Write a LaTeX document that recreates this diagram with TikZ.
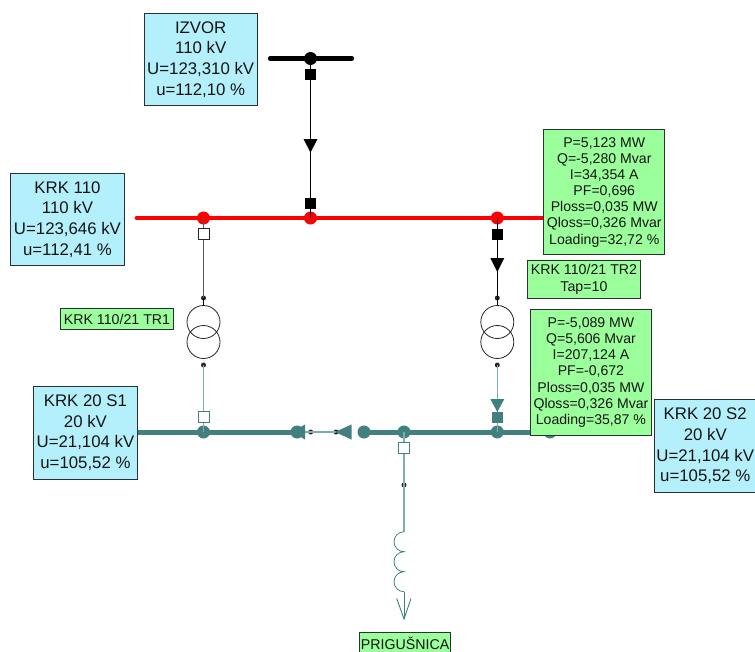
\documentclass[tikz,border=0pt]{standalone}
\usepackage{fontspec}
\setmainfont{Liberation Sans}
\definecolor{lblue}{RGB}{180,240,252}
\definecolor{lgreen}{RGB}{155,255,155}
\definecolor{teal1}{RGB}{66,128,128}
\definecolor{teal2}{RGB}{125,175,175}
\definecolor{frame}{RGB}{40,50,50}
\tikzset{x=1pt,y=-1pt,
 lab/.style={draw=frame,line width=0.9pt,inner sep=0pt,align=center,anchor=north west,text=black!92},
 bluebox/.style={lab,fill=lblue,font=\fontsize{16.8}{20.6}\selectfont},
 greenbig/.style={lab,fill=lgreen,font=\fontsize{14.1}{16.1}\selectfont},
 greensmall/.style={lab,fill=lgreen,font=\fontsize{14.2}{16.5}\selectfont},
 bbar/.style={line width=4.2pt,line cap=round,black},
 rbar/.style={line width=4.8pt,line cap=round,red},
 tbar/.style={line width=5pt,teal1},
 thin1/.style={line width=1pt,black},
 gline/.style={line width=1.1pt,black!65},
 tline/.style={line width=1.2pt,teal2},
 dotn/.style={circle,inner sep=0pt,minimum size=13pt,fill=#1},
 sq/.style={rectangle,inner sep=0pt,minimum size=11pt,fill=#1},
 wsq/.style={rectangle,inner sep=0pt,minimum size=11pt,fill=white,draw=#1,line width=0.9pt},
 jn/.style={circle,inner sep=0pt,minimum size=5pt,fill=black!85},
 wind/.style={circle,draw=black!85,line width=0.8pt,minimum size=33pt,inner sep=0pt}
}
\begin{document}
\begin{tikzpicture}
\useasboundingbox (0,0) rectangle (755,651);
% coordinates
\coordinate (bbl) at (270,58.5); \coordinate (bbr) at (352,58.5);
\coordinate (rbl) at (137,218); \coordinate (rbr) at (546,218);
\coordinate (tbl) at (136,432); \coordinate (tbm) at (297,432);
\coordinate (tbn) at (364,432); \coordinate (tbr) at (550,432);
% buses
\draw[bbar] (bbl) -- (bbr);
\draw[rbar] (rbl) -- (rbr);
\draw[tbar] (tbl) -- (tbm);
\draw[tbar] (tbn) -- (tbr);
% bus dots
\node[dotn=black] (d0) at (310.5,58.5) {};
\node[dotn=red] (r1) at (203.5,218) {};
\node[dotn=red] (r2) at (310.5,218) {};
\node[dotn=red] (r3) at (497.3,218) {};
\node[dotn=teal1] (t1) at (203.5,432) {};
\node[dotn=teal1] (t2) at (297,432) {};
\node[dotn=teal1] (t3) at (364,432) {};
\node[dotn=teal1] (t4) at (404,432) {};
\node[dotn=teal1] (t5) at (497.3,432) {};
\node[dotn=teal1] (t6) at (550,432) {};
% source feeder
\draw[thin1] (d0.center) -- (r2.center);
\node[sq=black] (s0a) at (310.5,74) {};
\node[sq=black] (s0b) at (310.5,203.5) {};
\fill[black] (303.5,139) -- (317.5,139) -- (310.5,152.5) -- cycle;
% TR1
\node[jn] (j1a) at (203.5,298) {};
\node[jn] (j1b) at (203.5,365) {};
\draw[gline] (r1.center) -- (j1a.center);
\draw[tline] (j1b.center) -- (t1.center);
\draw[thin1] (j1a.center) -- (203.5,306);
\node[wsq=black!85] (s1a) at (203.5,234) {};
\node[wsq=teal1] (s1b) at (203.5,417) {};
\node[wind] (w1a) at (203.5,322) {};
\node[wind] (w1b) at (203.5,342) {};
% TR2
\node[jn] (j2a) at (497.3,298) {};
\node[jn] (j2b) at (497.3,365) {};
\draw[thin1] (r3.center) -- (j2a.center) -- (497.3,306);
\draw[tline] (j2b.center) -- (t5.center);
\node[sq=black] (s2a) at (497.3,234) {};
\fill[black] (490.3,258) -- (504.3,258) -- (497.3,272) -- cycle;
\node[wind] (w2a) at (497.3,322) {};
\node[wind] (w2b) at (497.3,342) {};
\fill[teal1] (490.3,399) -- (504.3,399) -- (497.3,412) -- cycle;
\node[sq=teal1] (s2b) at (497.3,417.5) {};
% coupler
\node[jn] (c1) at (310.7,432) {};
\node[jn] (c2) at (336,432) {};
\draw[tline] (t2.center) -- (c1.center) -- (c2.center);
\fill[teal1] (305,424.5) -- (305,439.5) -- (292,432) -- cycle;
\fill[teal1] (351.5,424.5) -- (351.5,439.5) -- (335,432) -- cycle;
% reactor
\node[jn] (j3) at (404,485) {};
\coordinate (la) at (404,531.7);
\coordinate (lb) at (404,591.7);
\coordinate (tip) at (404,619);
\draw[tline] (t4.center) -- (j3.center) -- (la);
\node[wsq=teal1] (s3) at (404,447.5) {};
\draw[teal1,line width=0.8pt] (la) arc[start angle=270,end angle=90,radius=10] arc[start angle=270,end angle=90,radius=10] arc[start angle=270,end angle=90,radius=10];
\draw[teal1,line width=0.9pt] (lb) -- (tip);
\draw[teal1,line width=0.9pt] (396.7,598.5) -- (tip) -- (411,598.5);
% labels
\node[bluebox,minimum width=113.5pt,minimum height=92pt] (izv) at (143.5,13) {IZVOR\\110 kV\\U=123,310 kV\\u=112,10 \%};
\node[bluebox,minimum width=113.4pt,minimum height=92.6pt] (k110) at (10.3,172.7) {KRK 110\\110 kV\\U=123,646 kV\\u=112,41 \%};
\node[bluebox,minimum width=104.6pt,minimum height=92.7pt] (s1) at (32.7,386) {KRK 20 S1\\20 kV\\U=21,104 kV\\u=105,52 \%};
\node[bluebox,minimum width=101pt,minimum height=93pt] (s2) at (654.3,399) {KRK 20 S2\\20 kV\\U=21,104 kV\\u=105,52 \%};
\node[greenbig,minimum width=121pt,minimum height=125pt] (g1) at (543.3,129.3) {P=5,123 MW\\Q=-5,280 Mvar\\I=34,354 A\\PF=0,696\\Ploss=0,035 MW\\Qloss=0,326 Mvar\\Loading=32,72 \%};
\node[greenbig,minimum width=121pt,minimum height=125.4pt] (g2) at (530,309.3) {P=-5,089 MW\\Q=5,606 Mvar\\I=207,124 A\\PF=-0,672\\Ploss=0,035 MW\\Qloss=0,326 Mvar\\Loading=35,87 \%};
\node[greensmall,minimum width=112.4pt,minimum height=38.3pt] (tap) at (527.3,259.7) {KRK 110/21 TR2\\Tap=10};
\node[greensmall,minimum width=112.4pt,minimum height=21pt] (tr1) at (60.3,308) {KRK 110/21 TR1};
\node[greensmall,minimum width=90.7pt,minimum height=21pt] (pri) at (359.3,632.3) {PRIGUŠNICA};
\end{tikzpicture}
\end{document}
